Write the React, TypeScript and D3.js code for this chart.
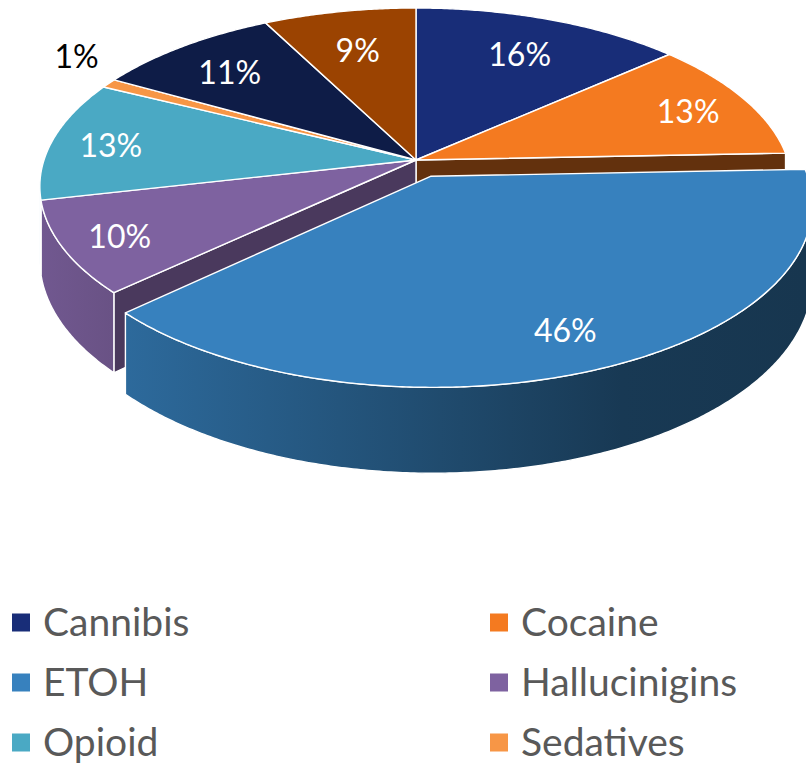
import React from "react";
import * as d3 from "d3";

// ---- data ----
const categories = ["Cannibis", "Cocaine", "ETOH", "Hallucinigins", "Opioid", "Sedatives", "Stimulants", "Other"];
const values = [16, 13, 46, 10, 13, 1, 11, 9];
const colors = ["#182d78", "#f47a20", "#3781be", "#7e62a0", "#4aa9c4", "#f79646", "#0e1c47", "#9b4301"];
const exploded = [false, false, true, false, false, false, false, false];

// ---- layout ----
const W = 806, H = 764;
const CX = 416, CY = 160;
const RX = 372, RY = 174.5;
const PERSP = 0.148;
const DEPTH = 72;
const EXPLODE = 0.1;

type P = [number, number];

function proj(u: number, v: number, h: number): P {
  const s = 1 / (1 - PERSP * v);
  return [CX + RX * u * s, CY + RY * v * s + DEPTH * h * s];
}

const thetaR = Math.acos(-PERSP);
const thetaL = 2 * Math.PI - thetaR;

function arcPts(a0: number, a1: number, ou: number, ov: number, h: number, r = 1): P[] {
  const n = Math.max(2, Math.ceil(Math.abs(a1 - a0) / (Math.PI / 360)));
  const pts: P[] = [];
  for (let i = 0; i <= n; i++) {
    const a = a0 + ((a1 - a0) * i) / n;
    pts.push(proj(ou + r * Math.sin(a), ov - r * Math.cos(a), h));
  }
  return pts;
}

const line = d3.line<P>().x((d) => d[0]).y((d) => d[1]);

function darken(c: string, k: number) {
  return d3.color(c)!.darker(k).formatHex();
}

// side shading across the page width (lighting from the left)
const shadeStops: [number, number][] = [
  [0, 0.3],
  [0.11, 0.55],
  [0.55, 1.6],
  [0.76, 2.3],
  [1, 2.45],
];

export default function App() {
  const pie = d3.pie<number>().sort(null).value((d) => d)(values);

  const slices = pie.map((p, i) => {
    const mid = (p.startAngle + p.endAngle) / 2;
    const e = exploded[i] ? EXPLODE : 0;
    const ou = e * Math.sin(mid);
    const ov = -e * Math.cos(mid);
    return { i, a0: p.startAngle, a1: p.endAngle, mid, ou, ov, color: colors[i] };
  });

  const stroke = "#ffffff";
  const sw = 1.4;

  function renderSlice(s: (typeof slices)[number], layer: "side" | "top") {
    const els: React.ReactNode[] = [];
    const prev = slices[(s.i - 1 + slices.length) % slices.length];
    const next = slices[(s.i + 1) % slices.length];
    if (layer === "side") {
      const faces: { a: number; nu: number; nv: number }[] = [];
      const needEnd = exploded[s.i] || exploded[next.i];
      const needStart = exploded[s.i] || exploded[prev.i];
      if (needEnd) faces.push({ a: s.a1, nu: Math.cos(s.a1), nv: Math.sin(s.a1) });
      if (needStart) faces.push({ a: s.a0, nu: -Math.cos(s.a0), nv: -Math.sin(s.a0) });
      faces.forEach((f, k) => {
        if (f.nv <= 0) return;
        const rim = [s.ou + Math.sin(f.a), s.ov - Math.cos(f.a)];
        const pts: P[] = [
          proj(s.ou, s.ov, 0),
          proj(rim[0], rim[1], 0),
          proj(rim[0], rim[1], 1),
          proj(s.ou, s.ov, 1),
        ];
        const dk = 2.6 - 1.6 * Math.abs(f.nu);
        els.push(
          <path key={`f${s.i}-${k}`} d={line(pts)! + "Z"} fill={darken(s.color, dk)} stroke={stroke} strokeWidth={sw} strokeLinejoin="round" />
        );
      });
      const b0 = Math.max(s.a0, thetaR);
      const b1 = Math.min(s.a1, thetaL);
      if (b1 > b0) {
        const top = arcPts(b0, b1, s.ou, s.ov, 0);
        const bot = arcPts(b1, b0, s.ou, s.ov, 1);
        els.push(
          <path key={`s${s.i}`} d={line([...top, ...bot])! + "Z"} fill={`url(#side${s.i})`} stroke={stroke} strokeWidth={sw} strokeLinejoin="round" />
        );
      }
    } else {
      const pts: P[] = [proj(s.ou, s.ov, 0), ...arcPts(s.a0, s.a1, s.ou, s.ov, 0)];
      els.push(
        <path key={`t${s.i}`} d={line(pts)! + "Z"} fill={s.color} stroke={stroke} strokeWidth={sw} strokeLinejoin="round" />
      );
    }
    return els;
  }

  const normal = slices.filter((s) => !exploded[s.i]);
  const expl = slices.filter((s) => exploded[s.i]);

  const font = "Lato, 'Noto Sans', sans-serif";

  const labels = slices.map((s) => {
    const small = values[s.i] < 3;
    const sn = Math.sin(s.mid);
    const cs = Math.cos(s.mid);
    if (small) {
      const r = 1.06;
      const [x, y] = proj(s.ou + r * sn, s.ov - r * cs, 0);
      return (
        <text key={`l${s.i}`} x={x + (sn < 0 ? 7 : -7)} y={y - 11} textAnchor={sn < 0 ? "end" : "start"} fill="#000000" fontSize={32} fontFamily={font}>
          {values[s.i]}%
        </text>
      );
    }
    const r = 0.73 + 0.11 * sn * sn + 0.07 * Math.max(0, -cs);
    const [x, y] = proj(s.ou + r * sn, s.ov - r * cs, 0);
    return (
      <text key={`l${s.i}`} x={x} y={y + 3} dy="0.36em" textAnchor="middle" fill="#ffffff" fontSize={32} fontFamily={font}>
        {values[s.i]}%
      </text>
    );
  });

  // legend: two columns; rows that fall below the picture are not drawn
  const legend = categories
    .map((c, i) => {
      const row = Math.floor(i / 2);
      const col = i % 2;
      const x = col === 0 ? 12 : 490;
      const yc = 622.5 + row * 60;
      if (yc - 9 > H) return null;
      return (
        <g key={`lg${i}`}>
          <rect x={x} y={yc - 9} width={18} height={18} fill={colors[i]} />
          <text x={x + 31} y={yc + 13} fill="#595959" fontSize={39} fontFamily={font}>
            {c}
          </text>
        </g>
      );
    })
    .filter(Boolean);

  return (
    <svg width={W} height={H} style={{ position: "absolute", left: 0, top: 0, display: "block" }}>
      <defs>
        {slices.map((s) => {
          const base = d3.color(s.color)!;
          return (
            <linearGradient key={`g${s.i}`} id={`side${s.i}`} gradientUnits="userSpaceOnUse" x1={40} x2={W} y1={0} y2={0}>
              {shadeStops.map(([o, k]) => (
                <stop key={o} offset={o} stopColor={base.darker(k).formatHex()} />
              ))}
            </linearGradient>
          );
        })}
      </defs>
      <rect width={W} height={H} fill="#ffffff" />
      {normal.map((s) => renderSlice(s, "side"))}
      {normal.map((s) => renderSlice(s, "top"))}
      {expl.map((s) => renderSlice(s, "side"))}
      {expl.map((s) => renderSlice(s, "top"))}
      {labels}
      {legend}
    </svg>
  );
}
